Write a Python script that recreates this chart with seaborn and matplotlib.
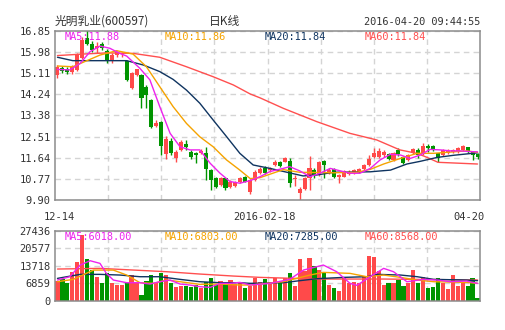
import numpy as np
import pandas as pd
import matplotlib
matplotlib.use("Agg")
import matplotlib.pyplot as plt
import seaborn as sns

# ---------------- data ----------------
opens = [15.03, 15.33, 15.30, 15.16, 15.26, 15.74, 16.56, 16.33, 16.15, 16.33,
         16.01, 15.67, 15.88, 15.90, 15.62, 14.49, 15.04, 15.04, 14.56, 14.01,
         12.94, 13.12, 11.78, 12.34, 11.61, 11.96, 12.20, 11.89, 11.85, 11.82,
         11.82, 11.13, 10.79, 10.52, 10.79, 10.45, 10.49, 10.66, 10.83, 10.24,
         10.72, 11.00, 11.23, 11.13, 11.34, 11.48, 11.48, 11.52, 10.78, 10.20,
         10.35, 10.79, 11.13, 10.93, 11.52, 11.02, 11.16, 10.83, 10.86, 10.97,
         11.02, 11.05, 11.16, 11.34, 11.68, 11.68, 11.75, 11.79, 11.55, 11.96,
         11.66, 11.55, 11.82, 11.96, 11.82, 12.12, 12.12, 11.82, 11.75, 11.85,
         11.89, 11.89, 11.96, 12.07, 11.89, 11.79]
highs = [15.44, 15.42, 15.39, 15.45, 15.93, 16.62, 16.90, 16.45, 16.38, 16.40,
         16.10, 15.95, 16.02, 16.00, 15.66, 15.15, 15.30, 15.10, 14.62, 14.05,
         13.20, 13.15, 12.55, 12.45, 11.95, 12.35, 12.37, 11.95, 11.88, 11.98,
         12.09, 11.18, 10.85, 10.85, 10.82, 10.72, 10.68, 10.84, 10.90, 10.78,
         11.12, 11.25, 11.30, 11.25, 11.55, 11.52, 11.65, 11.61, 10.93, 10.45,
         10.86, 11.71, 11.20, 11.52, 11.55, 11.20, 11.20, 10.97, 11.15, 11.12,
         11.18, 11.20, 11.40, 11.75, 12.03, 12.03, 11.96, 11.85, 11.88, 12.03,
         11.70, 11.80, 12.05, 12.03, 12.23, 12.20, 12.15, 11.85, 12.00, 11.98,
         12.00, 12.08, 12.18, 12.10, 11.92, 11.82]
lows = [14.92, 15.12, 15.08, 15.10, 15.22, 15.70, 16.27, 15.98, 15.95, 16.05,
        15.55, 15.55, 15.80, 15.78, 14.78, 14.45, 14.98, 13.68, 13.67, 12.85,
        12.90, 11.75, 11.60, 11.75, 11.45, 11.90, 11.96, 11.60, 11.41, 11.78,
        10.72, 10.31, 10.40, 10.48, 10.30, 10.40, 10.45, 10.60, 10.62, 10.14,
        10.68, 10.95, 10.98, 11.05, 11.30, 11.25, 11.45, 10.45, 10.49, 9.88,
        10.30, 10.31, 10.80, 10.90, 10.79, 10.98, 10.79, 10.61, 10.83, 10.93,
        10.95, 11.00, 11.12, 11.30, 11.61, 11.61, 11.68, 11.55, 11.52, 11.72,
        11.38, 11.52, 11.79, 11.61, 11.75, 11.89, 11.90, 11.48, 11.72, 11.80,
        11.82, 11.85, 11.92, 11.85, 11.55, 11.60]
closes = [15.36, 15.19, 15.16, 15.40, 15.88, 16.49, 16.33, 16.08, 16.25, 16.15,
          15.64, 15.88, 15.97, 15.95, 14.84, 15.11, 15.27, 14.08, 14.22, 12.92,
          13.05, 12.12, 12.40, 11.82, 11.89, 12.30, 12.07, 11.65, 11.75, 11.92,
          11.16, 10.72, 10.45, 10.79, 10.38, 10.66, 10.63, 10.79, 10.66, 10.72,
          11.07, 11.16, 11.02, 11.20, 11.45, 11.30, 11.61, 10.61, 10.80, 10.35,
          10.82, 11.20, 10.93, 11.48, 11.34, 11.13, 10.86, 10.93, 11.09, 11.07,
          11.13, 11.16, 11.34, 11.57, 11.82, 11.92, 11.86, 11.59, 11.82, 11.78,
          11.41, 11.75, 12.00, 11.75, 12.12, 12.03, 11.96, 11.61, 11.96, 11.93,
          11.96, 12.03, 12.12, 11.89, 11.75, 11.66]
volumes = [7840, 8360, 7050, 11360, 15280, 25800, 16300, 12000, 9400, 6800,
           10700, 7050, 6140, 6140, 7050, 10060, 6800, 2220, 7700, 10060,
           6800, 10970, 10060, 7050, 5490, 5750, 5880, 5220, 6140, 4830,
           7440, 9010, 6140, 7840, 6800, 8100, 6400, 7050, 5090, 5750,
           9010, 7180, 8360, 7180, 9010, 7440, 9010, 10710, 5880, 16330,
           11750, 16850, 13710, 12020, 11100, 6140, 5090, 3920, 9010, 6790,
           7310, 7000, 9660, 17630, 17110, 11750, 6140, 6790, 6790, 8100,
           5880, 6790, 12020, 7050, 9400, 5090, 5490, 8880, 6790, 4700,
           10060, 5880, 6790, 5880, 9010, 1180]

# price moving averages (candle index, value)
ma5_x = [0, 2.5, 4.6, 6.6, 8.6, 10.6, 12.6, 14, 16.7, 18.7, 20.7, 22.8, 24.8, 26.8,
         28.8, 30.9, 32.9, 34.9, 36.9, 39, 41, 43, 45.7, 47, 49, 51.1, 53.1, 55.2,
         57.2, 59.2, 61.2, 63.3, 65.3, 67.4, 69.4, 71.4, 73.4, 75.4, 77.5, 79.5,
         81.5, 83.5, 85]
ma5_y = [15.27, 15.25, 15.52, 16.00, 16.23, 16.14, 15.93, 15.82, 15.31, 14.84, 13.74,
         12.64, 12.09, 11.96, 11.96, 11.41, 11.00, 10.66, 10.59, 10.70, 10.86, 11.07,
         11.20, 11.27, 11.10, 10.86, 11.00, 11.20, 11.10, 11.00, 11.00, 11.20, 11.55,
         11.78, 11.75, 11.61, 11.75, 11.98, 11.96, 11.92, 11.92, 11.89, 11.88]
ma10_x = [0, 3.1, 8.6, 12, 15.3, 18, 20.7, 23.4, 26.1, 28.8, 31.5, 34.2, 36.9, 39,
          41, 45.7, 49, 55.9, 60.6, 63.3, 66, 69.4, 72.8, 76.1, 82.8, 85]
ma10_y = [15.41, 15.38, 15.86, 16.04, 15.90, 15.38, 14.56, 13.74, 13.05, 12.50, 12.09,
          11.55, 11.13, 10.78, 10.82, 11.15, 11.04, 11.02, 11.04, 11.16, 11.38, 11.61,
          11.82, 11.82, 11.92, 11.86]
ma20_x = [0, 3.1, 14, 17.4, 20.7, 23.4, 26.1, 28.8, 31.5, 34.2, 36.9, 39.6, 43,
          49.7, 52.5, 55.9, 63.3, 67.4, 70.7, 73.4, 76.8, 80.2, 85]
ma20_y = [15.77, 15.63, 15.63, 15.45, 15.18, 14.86, 14.42, 13.88, 13.19, 12.51, 11.82,
          11.34, 11.20, 10.89, 10.93, 11.04, 11.06, 11.13, 11.38, 11.49, 11.65, 11.74,
          11.84]
ma60_x = [0, 5, 10, 15.3, 20.7, 26.1, 31.5, 35.6, 39, 41, 45.7, 52.5, 59.2, 64.6,
          69.3, 72.7, 74.7, 77, 85]
ma60_y = [15.84, 15.90, 15.95, 15.93, 15.77, 15.38, 14.97, 14.63, 14.26, 14.10, 13.67,
          13.12, 12.64, 12.37, 11.96, 11.82, 11.66, 11.45, 11.38]

# volume moving averages (candle index, value)
vma5_x = [0, 2.5, 4.6, 6.6, 8.6, 9.9, 11.3, 14, 16.7, 18.7, 20.7, 22.8, 24.8, 26.8,
          28.8, 30.9, 32.9, 34.9, 36.9, 39, 43, 47, 49.8, 53.8, 56.5, 59.2, 60.6,
          63.3, 66, 68, 70.7, 74.1, 76.8, 79.5, 82.8, 85]
vma5_y = [8100, 9400, 13970, 15670, 14630, 10710, 8100, 7050, 7050, 6530, 7440, 8100,
          6530, 6140, 5490, 5220, 6790, 6790, 7180, 6140, 6790, 8360, 12020, 13970,
          11360, 6790, 6010, 9400, 12670, 11360, 7440, 8360, 8100, 7440, 7700, 6790]
vma10_x = [0, 3.2, 7.3, 11.3, 14, 16.7, 19.4, 22.1, 24.8, 28.8, 32.9, 36.9, 39, 45.7,
           51.1, 53.8, 59.2, 62.6, 66, 69.4, 72.8, 76.1, 82.8, 85]
vma10_y = [7440, 8360, 12000, 12000, 10060, 7050, 6790, 8100, 7440, 6400, 6530, 6140,
           6140, 7440, 10060, 11100, 10710, 9400, 10060, 9140, 8100, 7440, 7180, 6790]
vma20_x = [0, 4.6, 8.6, 12.6, 16.7, 20.7, 24.8, 28.8, 32.9, 36.9, 39, 45.7, 49, 52.5,
           57.9, 62.6, 64.6, 69.4, 72.8, 76.1, 82.8, 85]
vma20_y = [8750, 10320, 10320, 10060, 9400, 9400, 8360, 7440, 7050, 7050, 6790, 7050,
           7840, 8620, 9140, 9400, 10320, 10060, 9400, 8360, 8100, 7840]
vma60_x = [0, 8.6, 15.3, 22.1, 28.8, 35.6, 41, 52.5, 66, 85]
vma60_y = [12410, 12670, 12020, 11360, 10450, 9660, 9140, 8490, 8490, 8100]

price_ticks = [16.85, 15.98, 15.11, 14.24, 13.38, 12.51, 11.64, 10.77, 9.90]
price_tick_labels = ["16.85", "15.98", "15.11", "14.24", "13.38", "12.51", "11.64", "10.77", "9.90"]
vol_ticks = [27436, 20577, 13718, 6859, 0]
vol_tick_labels = ["27436", "20577", "13718", "6859", "0"]
date_labels = ["12-14", "2016-02-18", "04-20"]
title_name = "光明乳业(600597)"
title_kind = "日K线"
timestamp = "2016-04-20 09:44:55"
price_ma_labels = ["MA5:11.88", "MA10:11.86", "MA20:11.84", "MA60:11.84"]
vol_ma_labels = ["MA5:6018.00", "MA10:6803.00", "MA20:7285.00", "MA60:8568.00"]

# ---------------- style ----------------
sns.set_style("white")
plt.rcParams["font.family"] = ["DejaVu Sans Mono", "Noto Sans CJK SC"]

RED = "#ff4a4a"
GREEN = "#009400"
C_MA5 = "#ee22ee"
C_MA10 = "#f5a300"
C_MA20 = "#0f3460"
C_MA60 = "#ff4f4f"
TXT = "#333333"
GRID = "#d4d4d4"
SPINE = "#8c8c8c"

W, H = 505, 330
fig = plt.figure(figsize=(W / 100, H / 100), dpi=100)
fig.patch.set_facecolor("white")
ax = fig.add_axes([55 / W, 1 - 200 / H, 425 / W, 169 / H])
axv = fig.add_axes([55 / W, 1 - 300.7 / H, 425 / W, 70 / H])

o = np.array(opens); c = np.array(closes)
hi = np.array(highs); lo = np.array(lows)
n = len(c)
idx = np.arange(n)
up = c >= o
cols = np.where(up, RED, GREEN)

# ---------------- price panel ----------------
ax.vlines(idx, lo, hi, colors=cols, lw=1, zorder=2)
body_bottom = np.minimum(o, c)
body_h = np.maximum(np.abs(c - o), 0.03)
bars = ax.bar(idx, body_h, bottom=body_bottom, width=0.82, color=cols, linewidth=0, zorder=2)
for p in bars:
    p.set_antialiased(False)

for xs, ys, col in [(ma60_x, ma60_y, C_MA60), (ma20_x, ma20_y, C_MA20),
                    (ma10_x, ma10_y, C_MA10), (ma5_x, ma5_y, C_MA5)]:
    sns.lineplot(x=xs, y=ys, ax=ax, color=col, lw=1, zorder=3)

ax.set_xlim(-0.5, n - 0.5)
ax.set_ylim(9.90, 16.85)
vgrid = [-0.5 + k * n / 8 for k in range(1, 8)]

# ---------------- volume panel ----------------
df = pd.DataFrame({"i": idx, "vol": volumes, "dir": np.where(up, "up", "down")})
sns.barplot(data=df, x="i", y="vol", hue="dir", palette={"up": RED, "down": GREEN},
            dodge=False, width=0.85, native_scale=True, legend=False, saturation=1,
            linewidth=0, edgecolor="none", ax=axv, zorder=2)
for p in axv.patches:
    p.set_antialiased(False)
for xs, ys, col in [(vma60_x, vma60_y, C_MA60), (vma20_x, vma20_y, C_MA20),
                    (vma10_x, vma10_y, C_MA10), (vma5_x, vma5_y, C_MA5)]:
    sns.lineplot(x=xs, y=ys, ax=axv, color=col, lw=1, zorder=3)
axv.set_xlim(-0.5, n - 0.5)
axv.set_ylim(0, 27436)

for a in (ax, axv):
    a.set_xticks(vgrid)
    a.set_xticklabels([])
    a.grid(True, ls=(0, (4, 3)), color=GRID, lw=1)
    a.set_axisbelow(True)
    a.tick_params(axis="both", length=0)
    a.tick_params(axis="y", pad=3, labelsize=7.5, labelcolor=TXT)
    a.set_xlabel("")
    a.set_ylabel("")
    for s in a.spines.values():
        s.set_color(SPINE)
        s.set_linewidth(1.1)

ax.set_yticks(price_ticks)
ax.set_yticklabels(price_tick_labels)
axv.set_yticks(vol_ticks)
axv.set_yticklabels(vol_tick_labels)

# ---------------- texts ----------------
cjk = ["Noto Sans CJK SC", "DejaVu Sans"]
fig.text(55 / W, 1 - 21 / H, title_name, family=cjk, fontsize=8.5, color=TXT,
         ha="left", va="center")
fig.text(225 / W, 1 - 21 / H, title_kind, family=cjk, fontsize=8.5, color=TXT,
         ha="center", va="center")
fig.text(480 / W, 1 - 22 / H, timestamp, fontsize=7.4, color=TXT, ha="right", va="center")

lab_x = [65, 165, 265, 365]
for txt, col, xx in zip(price_ma_labels, [C_MA5, C_MA10, C_MA20, C_MA60], lab_x):
    fig.text(xx / W, 1 - 37 / H, txt, fontsize=7.4, color=col, ha="left", va="center")
for txt, col, xx in zip(vol_ma_labels, [C_MA5, C_MA10, C_MA20, C_MA60], lab_x):
    fig.text(xx / W, 1 - 236.5 / H, txt, fontsize=7.4, color=col, ha="left", va="center")

for txt, xx in zip(date_labels, [59.3, 264.7, 469.3]):
    fig.text(xx / W, 1 - 216.5 / H, txt, fontsize=7.5, color=TXT, ha="center", va="center")

fig.savefig("out.png", dpi=100, facecolor="white")
